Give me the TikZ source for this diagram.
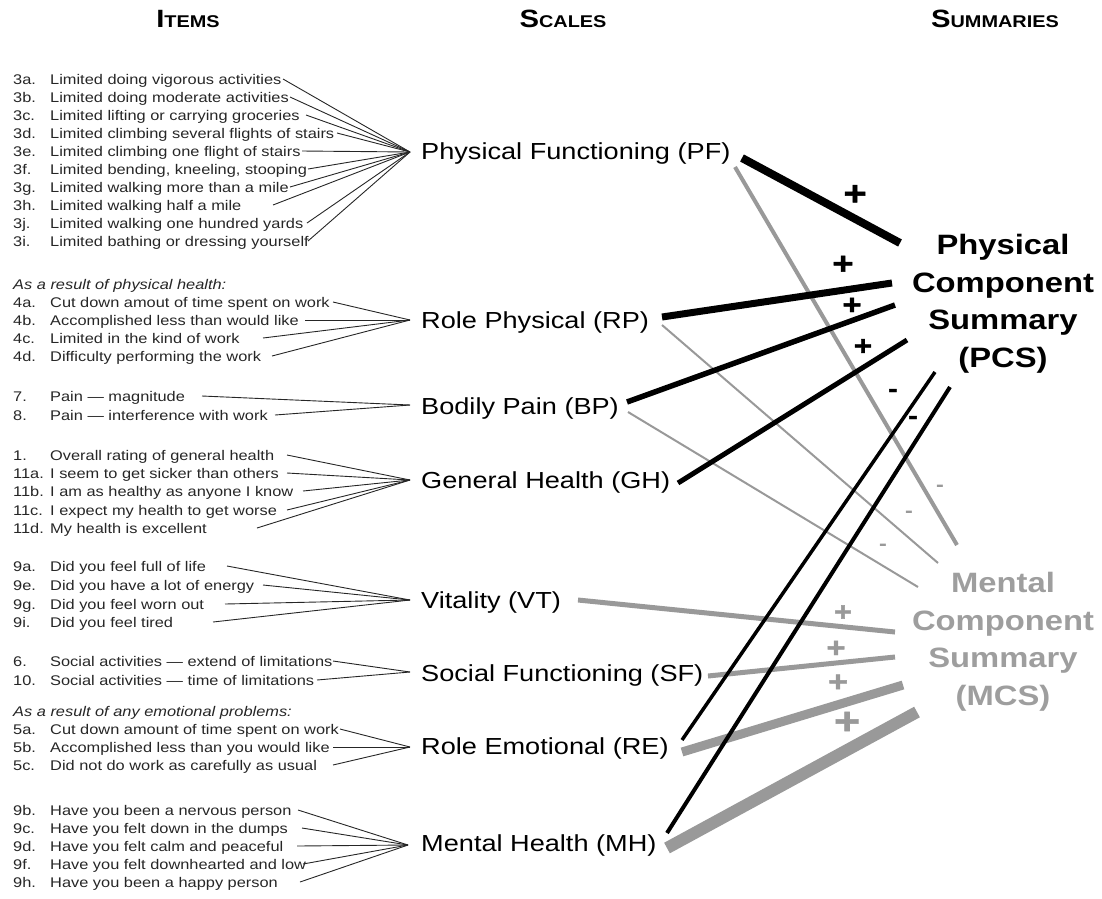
\documentclass[tikz,border=0pt]{standalone}
\usepackage{fontspec}
\setmainfont{Liberation Sans}[FakeStretch=1.17]
\newfontfamily\signfont{Liberation Sans Bold}[FakeStretch=1.17, FakeBold=1.6]
\definecolor{mgray}{gray}{0.6}
\definecolor{tgray}{gray}{0.62}
\tikzset{
  itemtxt/.style={font=\fontsize{14}{16}\selectfont, text=black!85, inner sep=0pt},
  itemhdr/.style={font=\itshape\fontsize{14}{16}\selectfont, text=black!85, inner sep=0pt},
  itemline/.style={line width=0.9pt, black!85},
  scaletxt/.style={font=\fontsize{23.2}{26}\selectfont, inner sep=0pt},
  hdr/.style={font=\bfseries\fontsize{17}{20}\selectfont, inner sep=0pt},
  sumtxt/.style={font=\bfseries\fontsize{28}{37.5}\selectfont, align=center, inner sep=0pt},
  posline/.style={line width=#1, black},
  negline/.style={line width=#1, mgray},
  sgn/.style={inner sep=0pt, font=\signfont\fontsize{#1}{#1}\selectfont},
  nsgn/.style={inner sep=0pt, text=mgray, font=\bfseries\fontsize{#1}{#1}\selectfont},
}
\newcommand\itm[6]{%
  \node[itemtxt, anchor=base west] (n#1) at (13,#2+5) {#3};
  \node[itemtxt, anchor=base west] (t#1) at (50,#2+5) {#4};
  \coordinate (e#1) at (#5,#2);
  \draw[itemline] (e#1) -- (#6);
}
\begin{document}
\begin{tikzpicture}[x=1pt, y=-1pt]
\useasboundingbox (0,0) rectangle (1102,898);

% headers
\node[hdr, anchor=base] (hItems) at (188,27) {{\fontsize{25}{25}\selectfont I}TEMS};
\node[hdr, anchor=base] (hScales) at (563,27) {{\fontsize{25}{25}\selectfont S}CALES};
\node[hdr, anchor=base] (hSum) at (995,27) {{\fontsize{25}{25}\selectfont S}UMMARIES};

% convergence points
\coordinate (cPF) at (410,152);
\coordinate (cRP) at (410,320);
\coordinate (cBP) at (410,405);
\coordinate (cGH) at (410,480);
\coordinate (cVT) at (410,600);
\coordinate (cSF) at (410,672);
\coordinate (cRE) at (410,747);
\coordinate (cMH) at (408,845);

% scales
\node[scaletxt, anchor=base west] (PF) at (421,159) {Physical Functioning (PF)};
\node[scaletxt, anchor=base west] (RP) at (421,328) {Role Physical (RP)};
\node[scaletxt, anchor=base west] (BP) at (421,414) {Bodily Pain (BP)};
\node[scaletxt, anchor=base west] (GH) at (421,488) {General Health (GH)};
\node[scaletxt, anchor=base west] (VT) at (421,608) {Vitality (VT)};
\node[scaletxt, anchor=base west] (SF) at (421,681) {Social Functioning (SF)};
\node[scaletxt, anchor=base west] (RE) at (421,754) {Role Emotional (RE)};
\node[scaletxt, anchor=base west] (MH) at (421,851) {Mental Health (MH)};

% items: PF
\itm{3a}{79}{3a.}{Limited doing vigorous activities}{283}{cPF}
\itm{3b}{97}{3b.}{Limited doing moderate activities}{290}{cPF}
\itm{3c}{115}{3c.}{Limited lifting or carrying groceries}{306}{cPF}
\itm{3d}{133}{3d.}{Limited climbing several flights of stairs}{337}{cPF}
\itm{3e}{151}{3e.}{Limited climbing one flight of stairs}{302}{cPF}
\itm{3f}{169}{3f.}{Limited bending, kneeling, stooping}{308}{cPF}
\itm{3g}{187}{3g.}{Limited walking more than a mile}{290}{cPF}
\itm{3h}{205}{3h.}{Limited walking half a mile}{273}{cPF}
\itm{3j}{223}{3j.}{Limited walking one hundred yards}{307}{cPF}
\itm{3i}{241}{3i.}{Limited bathing or dressing yourself}{308}{cPF}

% RP
\node[itemhdr, anchor=base west] (hRP) at (13,289) {As a result of physical health:};
\itm{4a}{302}{4a.}{Cut down amout of time spent on work}{333}{cRP}
\itm{4b}{320}{4b.}{Accomplished less than would like}{305}{cRP}
\itm{4c}{338}{4c.}{Limited in the kind of work}{263}{cRP}
\itm{4d}{356}{4d.}{Difficulty performing the work}{272}{cRP}

% BP
\itm{7}{396}{7.}{Pain — magnitude}{202}{cBP}
\itm{8}{415}{8.}{Pain — interference with work}{275}{cBP}

% GH
\itm{1}{455}{1.}{Overall rating of general health}{287}{cGH}
\itm{11a}{473}{11a.}{I seem to get sicker than others}{287}{cGH}
\itm{11b}{491}{11b.}{I am as healthy as anyone I know}{303}{cGH}
\itm{11c}{510}{11c.}{I expect my health to get worse}{287}{cGH}
\itm{11d}{528}{11d.}{My health is excellent}{257}{cGH}

% VT
\itm{9a}{566}{9a.}{Did you feel full of life}{227}{cVT}
\itm{9e}{585}{9e.}{Did you have a lot of energy}{263}{cVT}
\itm{9g}{604}{9g.}{Did you feel worn out}{225}{cVT}
\itm{9i}{622}{9i.}{Did you feel tired}{213}{cVT}

% SF
\itm{6}{661}{6.}{Social activities — extend of limitations}{333}{cSF}
\itm{10}{680}{10.}{Social activities — time of limitations}{317}{cSF}

% RE
\node[itemhdr, anchor=base west] (hRE) at (13,716) {As a result of any emotional problems:};
\itm{5a}{729}{5a.}{Cut down amount of time spent on work}{340}{cRE}
\itm{5b}{747}{5b.}{Accomplished less than you would like}{333}{cRE}
\itm{5c}{765}{5c.}{Did not do work as carefully as usual}{333}{cRE}

% MH
\itm{9b}{810}{9b.}{Have you been a nervous person}{298}{cMH}
\itm{9c}{828}{9c.}{Have you felt down in the dumps}{302}{cMH}
\itm{9d}{846}{9d.}{Have you felt calm and peaceful}{297}{cMH}
\itm{9f}{864}{9f.}{Have you felt downhearted and low}{303}{cMH}
\itm{9h}{882}{9h.}{Have you been a happy person}{300}{cMH}

% summaries (base = baseline of last line)
\node[sumtxt, anchor=base] (PCS) at (1003,367) {Physical\\Component\\Summary\\(PCS)};
\node[sumtxt, anchor=base, text=tgray] (MCS) at (1003,705) {Mental\\Component\\Summary\\(MCS)};

% line end points
\coordinate (PFa) at (742,158);  \coordinate (PFb) at (900,243);
\coordinate (PFc) at (735,167);  \coordinate (PFd) at (957,545);
\coordinate (RPa) at (662,317);  \coordinate (RPb) at (892,283);
\coordinate (RPc) at (662,325);  \coordinate (RPd) at (938,563);
\coordinate (BPa) at (627,402);  \coordinate (BPb) at (895,305);
\coordinate (BPc) at (628,412);  \coordinate (BPd) at (918,587);
\coordinate (GHa) at (678,483);  \coordinate (GHb) at (907,340);
\coordinate (VTa) at (578,600);  \coordinate (VTb) at (895,632);
\coordinate (SFa) at (708,676);  \coordinate (SFb) at (895,657);
\coordinate (REa) at (682,740);  \coordinate (REb) at (935,372);
\coordinate (REc) at (682,752);  \coordinate (REd) at (903,685);
\coordinate (MHa) at (667,833);  \coordinate (MHb) at (950,387);
\coordinate (MHc) at (667,848);  \coordinate (MHd) at (917,712);

% gray (MCS) lines
\draw[negline=4pt] (PFc) -- (PFd);
\draw[negline=2pt] (RPc) -- (RPd);
\draw[negline=2pt] (BPc) -- (BPd);
\draw[negline=5pt] (VTa) -- (VTb);
\draw[negline=5pt] (SFa) -- (SFb);
\draw[negline=9pt] (REc) -- (REd);
\draw[negline=12pt] (MHc) -- (MHd);
% black (PCS) lines
\draw[posline=8pt] (PFa) -- (PFb);
\draw[posline=7pt] (RPa) -- (RPb);
\draw[posline=5.5pt] (BPa) -- (BPb);
\draw[posline=5pt] (GHa) -- (GHb);
\draw[posline=3.5pt] (REa) -- (REb);
\draw[posline=4pt] (MHa) -- (MHb);

% signs
\node[sgn=34] (sPF) at (855,195) {+};
\node[sgn=31] (sRP) at (843,265) {+};
\node[sgn=28] (sBP) at (852,306) {+};
\node[sgn=27] (sGH) at (863,347) {+};
\node[sgn=24] (sRE) at (893,393) {-};
\node[sgn=24] (sMH) at (913,420) {-};
\node[nsgn=20] (gPF) at (940,488) {-};
\node[nsgn=20] (gRP) at (909,514) {-};
\node[nsgn=20] (gBP) at (883,547) {-};
\node[sgn=26, text=mgray] (gVT) at (843,613) {+};
\node[sgn=28, text=mgray] (gSF) at (836,649) {+};
\node[sgn=29, text=mgray] (gRE) at (838,683) {+};
\node[sgn=38, text=mgray] (gMH) at (847,723) {+};
\end{tikzpicture}
\end{document}
